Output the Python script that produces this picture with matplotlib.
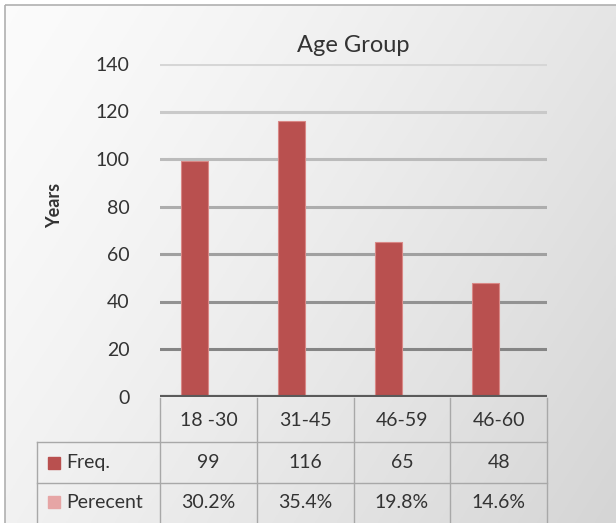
import matplotlib
matplotlib.use("Agg")
import matplotlib.pyplot as plt
import numpy as np
from matplotlib.patches import Rectangle

plt.rcParams['font.family'] = ['Lato', 'DejaVu Sans']

categories = ['18 -30', '31-45', '46-59', '46-60']
freq = [99, 116, 65, 48]
percent = [30.2, 35.4, 19.8, 14.6]
percent_labels = ['30.2%', '35.4%', '19.8%', '14.6%']
yticks = [0, 20, 40, 60, 80, 100, 120, 140]

W, H = 616, 523
fig = plt.figure(figsize=(W / 100, H / 100), dpi=100)

# background with soft diagonal gradient and thin frame
bg = fig.add_axes([0, 0, 1, 1], zorder=0)
gx, gy = np.meshgrid(np.linspace(0, 1, 300), np.linspace(0, 1, 260))
shade = 0.985 - 0.15 * (0.65 * gx + 0.35 * gy) ** 1.3
bg.imshow(np.dstack([shade] * 3), extent=(5, W, H, 5), aspect='auto')
bg.add_patch(Rectangle((5, 5), W, H, fill=False, ec='#b0b0b0', lw=1.2))
bg.set_xlim(0, W)
bg.set_ylim(H, 0)
bg.axis('off')

# plot area in pixel terms
x0, x1, ytop, ybot = 160, 547, 64, 396.5
ax = fig.add_axes([x0 / W, 1 - ybot / H, (x1 - x0) / W, (ybot - ytop) / H], zorder=2)
ax.set_facecolor('none')
ax.set_xlim(-0.5, len(categories) - 0.5)
ax.set_ylim(0, 140)

idx = np.arange(len(categories))
bw = 0.28
ax.bar(idx - bw / 2, freq, bw, color='#b9504f', edgecolor='#d98886', linewidth=0.8, zorder=3)
ax.bar(idx + bw / 2, np.array(percent) / 100, bw, color='#e6a5a5', zorder=3)

# gridlines fade from dark near the base to light at the top
grid_cols = np.linspace(0.52, 0.84, len(yticks) - 1)
for t, c in zip(yticks[1:], grid_cols):
    ax.axhline(t, color=str(c), lw=2.2, zorder=1)
ax.axhline(0, color='#5a5a5a', lw=3, zorder=4)

ax.set_yticks(yticks)
ax.set_yticklabels([str(t) for t in yticks], fontsize=14, color='#333333')
ax.tick_params(axis='y', length=0, pad=22)
ax.set_xticks([])
for s in ax.spines.values():
    s.set_visible(False)
ax.set_ylabel('Years', fontsize=13, fontweight='bold', color='#333333')
ax.yaxis.set_label_coords(-0.25, 0.575)
ax.set_title('Age Group', fontsize=17, color='#333333', pad=9)

# data table under the axis
tb = fig.add_axes([0, 0, 1, 1], zorder=3)
tb.set_xlim(0, W)
tb.set_ylim(H, 0)
tb.axis('off')
tb.patch.set_alpha(0)

line_c = '#a8a8a8'
col_w = (x1 - x0) / len(categories)
row1, row2, row3 = 442, 483, 523
for k in range(len(categories) + 1):
    tb.plot([x0 + k * col_w] * 2, [ybot + 1.5, row3], color=line_c, lw=1)
tb.plot([37, 37], [row1, row3], color=line_c, lw=1)
tb.plot([37, x1], [row1, row1], color=line_c, lw=1)
tb.plot([37, x1], [row2, row2], color=line_c, lw=1)

txt = dict(fontsize=14, color='#333333', ha='center', va='center')
for k in range(len(categories)):
    cx = x0 + (k + 0.5) * col_w
    tb.text(cx, (ybot + row1) / 2 + 1, categories[k], **txt)
    tb.text(cx, (row1 + row2) / 2, str(freq[k]), **txt)
    tb.text(cx, (row2 + row3) / 2 - 1, percent_labels[k], **txt)

for (yc, col, name) in [((row1 + row2) / 2, '#b9504f', 'Freq.'),
                        ((row2 + row3) / 2 - 1, '#e6a5a5', 'Perecent')]:
    tb.add_patch(Rectangle((48, yc - 6), 12, 12, color=col))
    tb.text(66, yc, name, fontsize=14, color='#333333', ha='left', va='center')

fig.savefig('out.png', dpi=100)
